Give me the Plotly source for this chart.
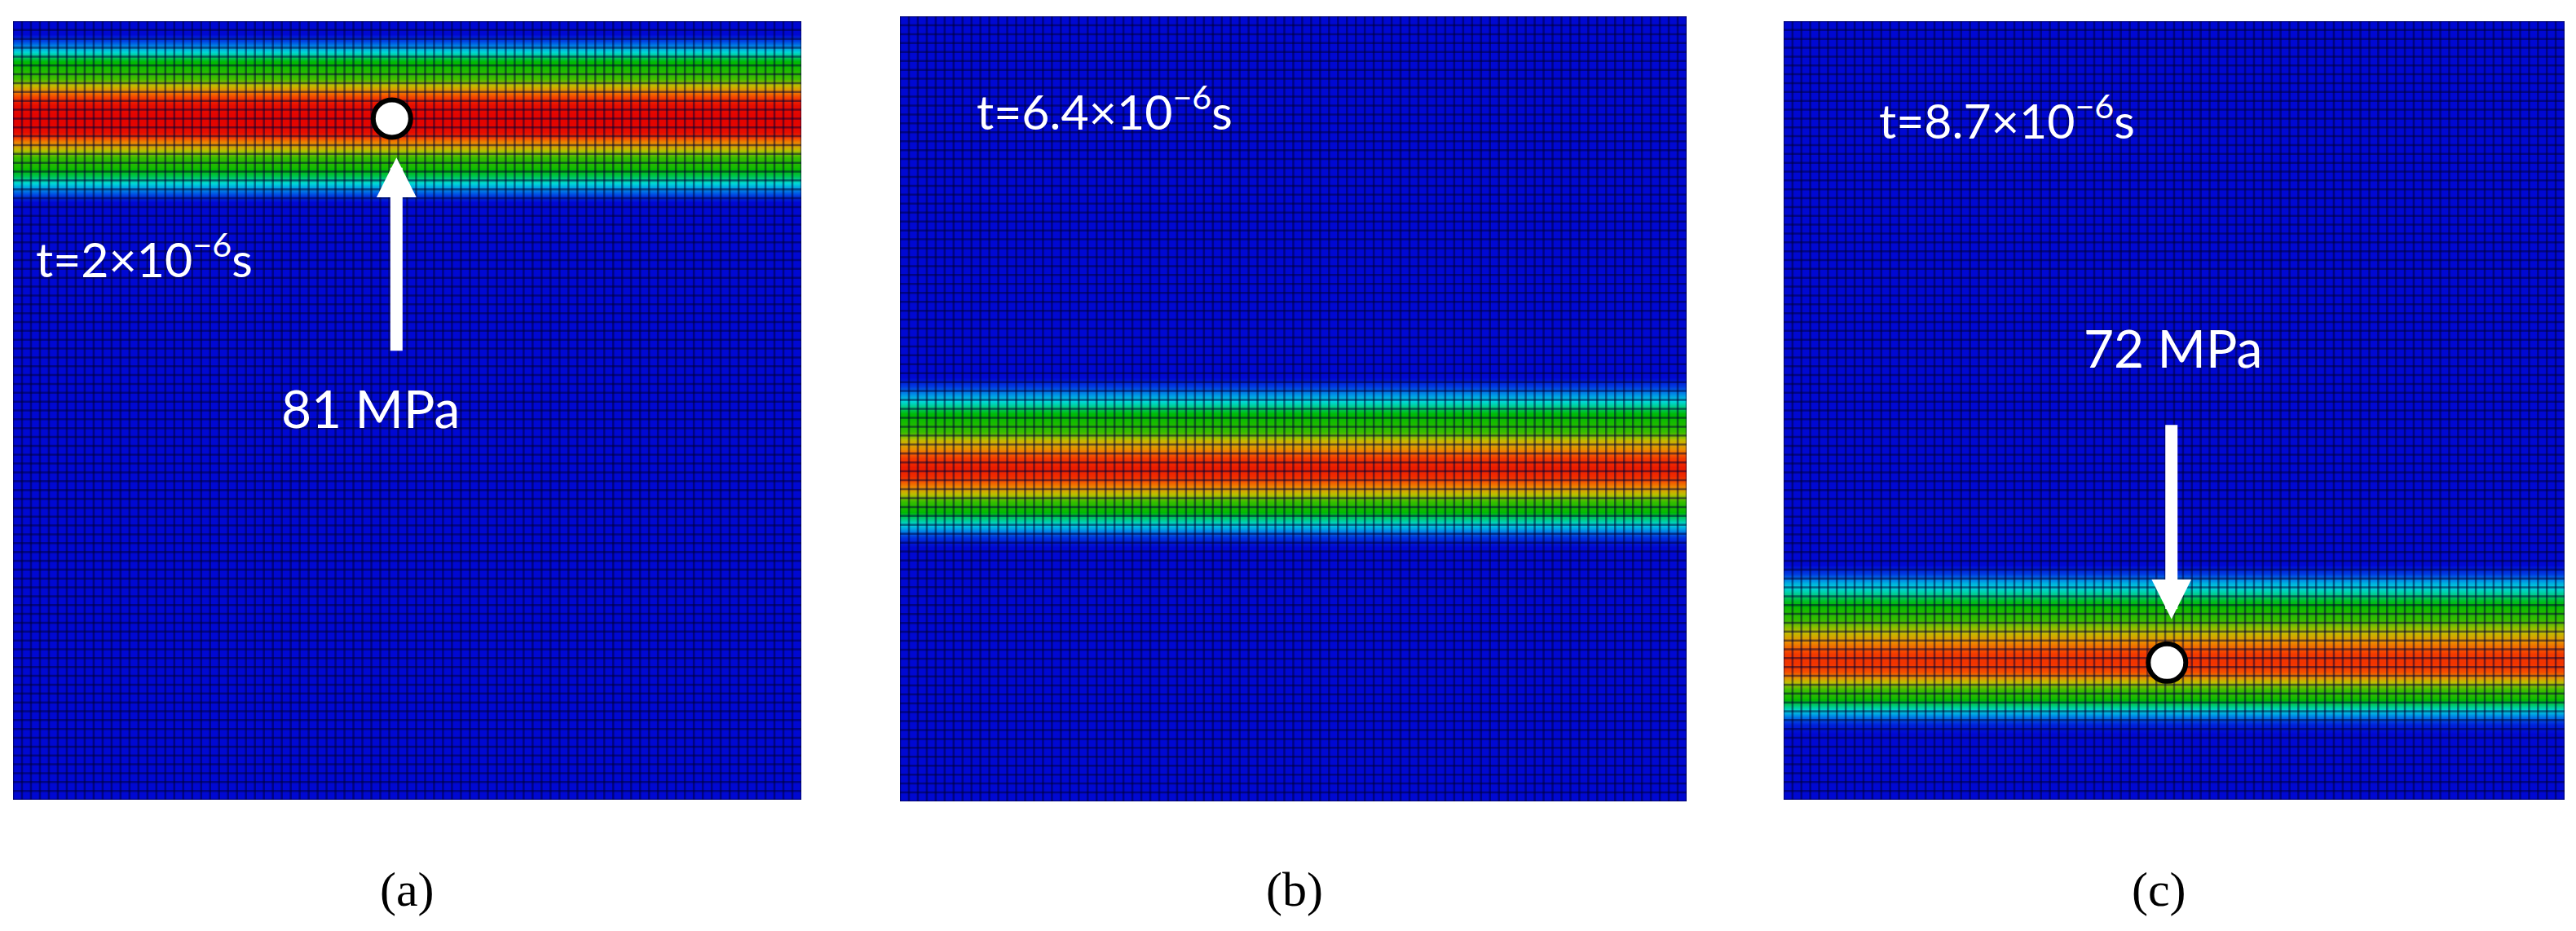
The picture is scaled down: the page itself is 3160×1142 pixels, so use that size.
import numpy as np
import plotly.graph_objects as go

# mesh: cells per side in each panel
n_cells = 88

# stress profile across the band (MPa), one value per mesh row, top to bottom
band_a_start = 2
band_a = [12, 25, 40, 45, 50, 60, 70, 79, 81, 81, 79, 66, 58, 48, 44, 35, 22, 10]
band_b_start = 41
band_b = [8, 18, 28, 40, 44, 48, 58, 64, 72, 76, 74, 66, 58, 48, 42, 30, 18, 6]
band_c_start = 62
band_c = [8, 20, 28, 38, 44, 48, 54, 60, 66, 72, 73, 70, 60, 50, 44, 30, 16, 4]

time_labels = ["t=2×10<sup>−6</sup>s", "t=6.4×10<sup>−6</sup>s", "t=8.7×10<sup>−6</sup>s"]
captions = ["(a)", "(b)", "(c)"]

# probe points (column, row) and readouts
probe_a = (42.3, 11.0)
probe_c = (43.2, 72.5)
stress_labels = ["81 MPa", "72 MPa"]

# page has an 8px body margin; the figure sits inside it
OFF = 8
W, H = 3160 - 2 * OFF, 1142 - 2 * OFF
# panel boxes in page pixels: left, top, right, bottom
boxes = [(16, 26, 983, 981), (1104, 20, 2069, 983), (2188, 26, 3146, 981)]

jet = [
    [0.00, "rgb(0,8,210)"],
    [0.10, "rgb(0,60,225)"],
    [0.20, "rgb(0,140,230)"],
    [0.30, "rgb(0,215,215)"],
    [0.40, "rgb(0,200,110)"],
    [0.50, "rgb(0,185,0)"],
    [0.60, "rgb(60,190,0)"],
    [0.70, "rgb(190,190,0)"],
    [0.78, "rgb(235,140,0)"],
    [0.86, "rgb(245,70,0)"],
    [0.93, "rgb(235,25,0)"],
    [1.00, "rgb(225,0,0)"],
]


def field(start, profile):
    col = np.zeros(n_cells)
    col[start:start + len(profile)] = profile
    return np.repeat(col[:, None], n_cells, axis=1)


fig = go.Figure()
layout_axes = {}
centers = np.arange(n_cells) + 0.5
edges = np.arange(n_cells + 1)

for i, (start, profile) in enumerate([(band_a_start, band_a), (band_b_start, band_b), (band_c_start, band_c)]):
    k = "" if i == 0 else str(i + 1)
    xa, ya = "x" + k, "y" + k
    fig.add_trace(
        go.Heatmap(
            z=field(start, profile), x=centers, y=centers,
            colorscale=jet, zmin=0, zmax=82, zsmooth="best",
            showscale=False, hoverinfo="skip", xaxis=xa, yaxis=ya,
        )
    )
    gx, gy = [], []
    for e in edges:
        gx += [e, e, None, 0, n_cells, None]
        gy += [0, n_cells, None, e, e, None]
    fig.add_trace(
        go.Scatter(
            x=gx, y=gy, mode="lines", line={"color": "rgba(0,0,50,0.5)", "width": 2.5},
            hoverinfo="skip", showlegend=False, xaxis=xa, yaxis=ya,
        )
    )
    l, t, r, b = [v - OFF for v in boxes[i]]
    layout_axes["xaxis" + k] = dict(
        domain=[l / W, r / W], range=[0, n_cells], visible=False, anchor=ya,
    )
    layout_axes["yaxis" + k] = dict(
        domain=[1 - b / H, 1 - t / H], range=[n_cells, 0], visible=False, anchor=xa,
    )

# probe markers
for (px, py), xa, ya in [(probe_a, "x", "y"), (probe_c, "x3", "y3")]:
    fig.add_trace(
        go.Scatter(
            x=[px], y=[py], mode="markers", xaxis=xa, yaxis=ya, showlegend=False,
            marker={"size": 46, "color": "white", "line": {"color": "black", "width": 6}},
            hoverinfo="skip",
        )
    )

fig.update_layout(
    width=W, height=H, margin=dict(l=0, r=0, t=0, b=0),
    paper_bgcolor="white", plot_bgcolor="white", showlegend=False,
    **layout_axes,
)

txt = dict(family="Lato, Open Sans, sans-serif", color="white")
ann = []
# time stamps
for (xa, ya, x, y), label in zip(
    [("x", "y", 2.4, 26.5), ("x2", "y2", 8.4, 10.3), ("x3", "y3", 10.6, 10.8)], time_labels
):
    ann.append(dict(xref=xa, yref=ya, x=x, y=y, text=label, showarrow=False,
                    xanchor="left", yanchor="middle", font=dict(size=59, **txt)))

# arrows pointing at probes
ann.append(dict(xref="x", yref="y", axref="x", ayref="y", x=42.8, y=15.4, ax=42.8, ay=37.4,
                text="", showarrow=True, arrowhead=2, arrowwidth=15, arrowsize=0.65,
                arrowcolor="white"))
ann.append(dict(xref="x3", yref="y3", axref="x3", ayref="y3", x=43.7, y=67.6, ax=43.7, ay=45.5,
                text="", showarrow=True, arrowhead=2, arrowwidth=15, arrowsize=0.65,
                arrowcolor="white"))
ann.append(dict(xref="x", yref="y", x=39.9, y=43.7, text=stress_labels[0], showarrow=False,
                font=dict(size=64, **txt)))
ann.append(dict(xref="x3", yref="y3", x=43.9, y=36.9, text=stress_labels[1], showarrow=False,
                font=dict(size=64, **txt)))

# panel captions
for cx, label in zip([464, 1588, 2684], captions):
    ann.append(dict(xref="paper", yref="paper", x=(cx - OFF) / W, y=1 - (1126 - OFF) / H, text=label,
                    showarrow=False, font=dict(family="Liberation Serif, serif", size=60, color="black")))

fig.update_layout(annotations=ann)
fig.write_html("out.html")
